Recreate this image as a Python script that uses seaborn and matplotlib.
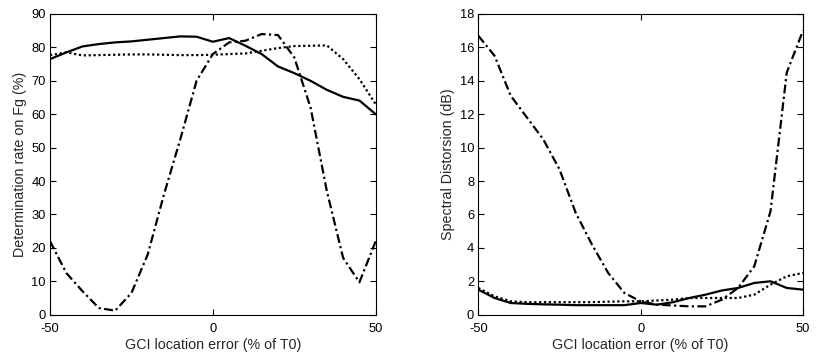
import numpy as np
import pandas as pd
import matplotlib
matplotlib.use("Agg")
import matplotlib.pyplot as plt
import seaborn as sns

x_err = [-50, -45, -40, -35, -30, -25, -20, -15, -10, -5, 0, 5, 10, 15, 20, 25, 30, 35, 40, 45, 50]

rate_solid = [76.5, 78.5, 80.3, 81.0, 81.5, 81.8, 82.3, 82.8, 83.3, 83.2, 81.7, 82.8, 80.5, 78.0, 74.3, 72.3, 70.0, 67.3, 65.2, 64.1, 60.0]
rate_dotted = [77.7, 78.5, 77.6, 77.7, 77.8, 77.9, 77.9, 77.8, 77.7, 77.7, 77.8, 78.0, 78.2, 79.0, 79.8, 80.4, 80.5, 80.6, 76.5, 70.5, 63.0]
rate_dashdot = [22.0, 12.5, 7.0, 2.0, 1.2, 6.5, 18.0, 36.0, 52.5, 70.0, 78.0, 81.5, 82.0, 84.0, 83.7, 77.0, 62.0, 37.0, 17.0, 9.7, 22.0]

sd_solid = [1.5, 1.0, 0.7, 0.65, 0.62, 0.6, 0.57, 0.57, 0.57, 0.57, 0.7, 0.6, 0.75, 1.0, 1.2, 1.45, 1.6, 1.9, 2.0, 1.6, 1.5]
sd_dotted = [1.6, 1.1, 0.8, 0.75, 0.75, 0.75, 0.75, 0.75, 0.78, 0.8, 0.8, 0.85, 0.9, 1.0, 1.0, 1.0, 1.0, 1.2, 1.8, 2.3, 2.5]
sd_dashdot = [16.7, 15.5, 13.1, 11.8, 10.5, 8.7, 6.1, 4.2, 2.5, 1.3, 0.8, 0.6, 0.55, 0.5, 0.5, 0.9, 1.6, 2.9, 6.2, 14.5, 17.0]

series_names = ["solid", "dotted", "dashdot"]

sns.set_theme(style="white")
plt.rcParams["font.family"] = ["Liberation Sans", "DejaVu Sans"]
plt.rcParams["font.size"] = 9
plt.rcParams["axes.unicode_minus"] = False

def long_df(a, b, c):
    frames = []
    for name, vals in zip(series_names, (a, b, c)):
        frames.append(pd.DataFrame({"x": x_err, "y": vals, "series": name}))
    return pd.concat(frames, ignore_index=True)

df_rate = long_df(rate_solid, rate_dotted, rate_dashdot)
df_sd = long_df(sd_solid, sd_dotted, sd_dashdot)

dashes = {"solid": "", "dotted": (1, 1.2), "dashdot": (4, 1.5, 1, 1.5)}

fig = plt.figure(figsize=(8.26, 3.54), dpi=100)
ax1 = fig.add_axes([50 / 826, 39.3 / 354, 325.7 / 826, 300.7 / 354])
ax2 = fig.add_axes([478.3 / 826, 39.3 / 354, 324.7 / 826, 300.7 / 354])

for ax, df, ylim, yticks, ylabel in [
    (ax1, df_rate, (0, 90), np.arange(0, 91, 10), "Determination rate on Fg (%)"),
    (ax2, df_sd, (0, 18), np.arange(0, 19, 2), "Spectral Distorsion (dB)"),
]:
    sns.lineplot(data=df, x="x", y="y", style="series", dashes=dashes,
                 color="black", linewidth=1.6, legend=False, ax=ax,
                 style_order=series_names)
    ax.set_xlim(-50, 50)
    ax.set_ylim(*ylim)
    ax.set_xticks([-50, 0, 50])
    ax.set_yticks(yticks)
    ax.set_xlabel("GCI location error (% of T0)", fontsize=10.3, labelpad=2)
    ax.set_ylabel(ylabel, fontsize=10.3, labelpad=3)
    ax.tick_params(direction="in", length=4, width=0.8, top=True, right=True,
                   bottom=True, left=True, labelsize=9.3, colors="black")
    ax.tick_params(axis="x", pad=6)
    ax.tick_params(axis="y", pad=3)
    for s in ax.spines.values():
        s.set_visible(True)
        s.set_color("black")
        s.set_linewidth(0.8)

fig.savefig("out.png", dpi=100, facecolor="white")
